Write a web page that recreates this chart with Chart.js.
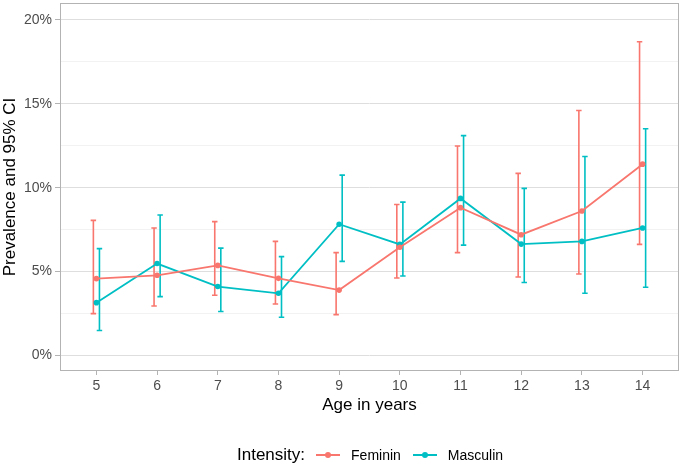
<!DOCTYPE html>
<html lang="en">
<head>
<meta charset="UTF-8">
<title>Prevalence by age</title>
<script src="https://cdn.jsdelivr.net/npm/chart.js"></script>
<style>
  html, body { margin: 0; padding: 0; background: #fff; }
  body { font-family: 'Liberation Sans', Arial, sans-serif; }
  .wrap { position: relative; width: 685px; height: 466px; }
  .legend {
    position: absolute; left: 237px; top: 444px; height: 22px;
    display: flex; align-items: center; white-space: nowrap; color: #000;
  }
  .legend .title { font-size: 17px; margin-right: 11px; }
  .legend .key { position: relative; width: 24px; height: 22px; margin-right: 11px; }
  .legend .key .ln { position: absolute; left: 0; right: 0; top: 10px; height: 2px; }
  .legend .key .dot { position: absolute; left: 9px; top: 8px; width: 6px; height: 6px; border-radius: 50%; }
  .legend .lbl { font-size: 14px; margin-right: 12px; }
</style>
</head>
<body>
<div class="wrap">
  <canvas id="prevChart" width="685" height="466"></canvas>
  <div class="legend" id="legend"></div>
</div>

<script>
// data (prevalence in %, with 95% CI)
const ages = [5, 6, 7, 8, 9, 10, 11, 12, 13, 14];
const seriesNames = ['Feminin', 'Masculin'];
const femPrev = [4.58, 4.78, 5.37, 4.60, 3.90, 6.45, 8.81, 7.20, 8.61, 11.40];
const femLow  = [2.50, 2.95, 3.59, 3.07, 2.44, 4.62, 6.13, 4.68, 4.86, 6.62];
const femHigh = [8.05, 7.60, 7.98, 6.80, 6.13, 9.00, 12.48, 10.85, 14.60, 18.69];
const masPrev = [3.15, 5.48, 4.11, 3.71, 7.82, 6.62, 9.36, 6.64, 6.80, 7.60];
const masLow  = [1.49, 3.51, 2.62, 2.28, 5.61, 4.74, 6.58, 4.35, 3.71, 4.07];
const masHigh = [6.37, 8.37, 6.40, 5.89, 10.75, 9.14, 13.10, 9.96, 11.86, 13.51];
const yTicks = [0, 2.5, 5, 7.5, 10, 12.5, 15, 17.5, 20];

const colors = ['#F8766D', '#00BFC4'];
const FONT = "'Liberation Sans', Arial, sans-serif";
const capHalf = 0.045;

// vertical error bars with caps, positioned through the chart scales
const errorBars = {
  id: 'errorBars',
  beforeDatasetsDraw(chart) {
    const { ctx, scales: { x, y } } = chart;
    ctx.save();
    ctx.lineWidth = 1.6;
    chart.data.datasets.forEach(ds => {
      ctx.strokeStyle = ds.borderColor;
      ds.low.forEach((lo, i) => {
        const hi = ds.high[i];
        const cx = x.getPixelForValue(ages[i] + ds.dodge);
        const c0 = x.getPixelForValue(ages[i] + ds.dodge - capHalf);
        const c1 = x.getPixelForValue(ages[i] + ds.dodge + capHalf);
        const yLo = y.getPixelForValue(lo);
        const yHi = y.getPixelForValue(hi);
        ctx.beginPath();
        ctx.moveTo(cx, yLo); ctx.lineTo(cx, yHi);
        ctx.moveTo(c0, yLo); ctx.lineTo(c1, yLo);
        ctx.moveTo(c0, yHi); ctx.lineTo(c1, yHi);
        ctx.stroke();
      });
    });
    ctx.restore();
  }
};

const panelBorder = {
  id: 'panelBorder',
  afterDraw(chart) {
    const { ctx, chartArea: a } = chart;
    ctx.save();
    ctx.strokeStyle = '#b3b3b3';
    ctx.lineWidth = 1;
    ctx.strokeRect(Math.round(a.left) + 0.5, Math.round(a.top) + 0.5,
                   Math.round(a.right - a.left) - 1, Math.round(a.bottom - a.top) - 1);
    ctx.restore();
  }
};

function makeSet(i, prev, low, high, dodge) {
  return {
    label: seriesNames[i],
    data: ages.map((a, k) => ({ x: a, y: prev[k] })),
    low: low, high: high, dodge: dodge,
    borderColor: colors[i],
    backgroundColor: colors[i],
    borderWidth: 1.8,
    pointRadius: 2.8,
    pointBorderWidth: 0,
    pointHoverRadius: 3,
    tension: 0
  };
}

const chart = new Chart(document.getElementById('prevChart'), {
  type: 'line',
  data: {
    datasets: [
      makeSet(0, femPrev, femLow, femHigh, -0.05),
      makeSet(1, masPrev, masLow, masHigh, 0.05)
    ]
  },
  options: {
    responsive: false,
    animation: false,
    layout: { padding: { top: 2, right: 6, bottom: 50, left: 0 } },
    plugins: { legend: { display: false }, tooltip: { enabled: false } },
    scales: {
      x: {
        type: 'linear',
        min: 4.4, max: 14.6,
        afterBuildTicks: s => { s.ticks = ages.map(v => ({ value: v })); },
        afterFit: s => { s.height = 45; s.paddingLeft = 0; s.paddingRight = 0; },
        border: { display: false },
        grid: { drawOnChartArea: false, drawTicks: true, tickLength: 4, tickColor: '#b3b3b3' },
        ticks: { color: '#4d4d4d', font: { family: FONT, size: 14 }, padding: 3, autoSkip: false, maxRotation: 0 },
        title: { display: true, text: 'Age in years', color: '#000', font: { family: FONT, size: 17 }, padding: 0 }
      },
      y: {
        type: 'linear',
        min: -0.92, max: 21.0,
        afterBuildTicks: s => { s.ticks = yTicks.map(v => ({ value: v })); },
        afterFit: s => { s.width = 60; s.paddingTop = 0; s.paddingBottom = 0; },
        border: { display: false },
        grid: {
          color: c => (c.tick && c.tick.value % 5 === 0) ? '#dedede' : '#ececec',
          lineWidth: c => (c.tick && c.tick.value % 5 === 0) ? 1 : 0.7,
          tickColor: c => (c.tick && c.tick.value % 5 === 0) ? '#b3b3b3' : 'rgba(0,0,0,0)',
          tickLength: 5
        },
        ticks: {
          color: '#4d4d4d', font: { family: FONT, size: 14 }, padding: 3,
          callback: v => (v % 5 === 0 ? v + '%' : '')
        },
        title: { display: true, text: 'Prevalence and 95% CI', color: '#000', font: { family: FONT, size: 17 }, padding: 0 }
      }
    }
  },
  plugins: [errorBars, panelBorder]
});

// legend built from the series names and colours
const legend = document.getElementById('legend');
let html = '<span class="title">Intensity:</span>';
seriesNames.forEach((n, i) => {
  html += '<span class="key"><span class="ln" style="background:' + colors[i] + '"></span>' +
          '<span class="dot" style="background:' + colors[i] + '"></span></span>' +
          '<span class="lbl">' + n + '</span>';
});
legend.innerHTML = html;
</script>
</body>
</html>
